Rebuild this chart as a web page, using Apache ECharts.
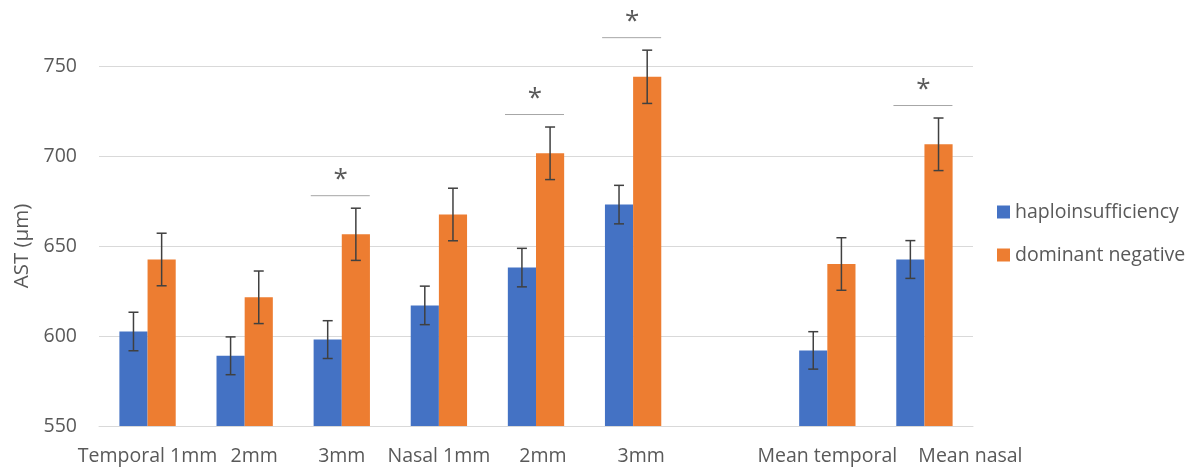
<!DOCTYPE html>
<html>
<head>
<meta charset="utf-8">
<script src="https://cdn.jsdelivr.net/npm/echarts@6/dist/echarts.min.js"></script>
<style>html,body{margin:0;padding:0;background:#fff;}#c{width:1195px;height:470px;}</style>
</head>
<body>
<div id="c"></div>
<script>
// ---- data ----
const categories = ['Temporal 1mm', '2mm', '3mm', 'Nasal 1mm', '2mm', '3mm', '', 'Mean temporal', 'Mean nasal'];
const haploValues = [602.5, 589, 598, 617, 638, 673, null, 592, 642.5];
const haploErrors = [10.7, 10.5, 10.5, 10.7, 10.7, 10.7, null, 10.4, 10.5];
const domValues = [642.5, 621.5, 656.5, 667.5, 701.5, 744, null, 640, 706.5];
const domErrors = [14.6, 14.6, 14.5, 14.6, 14.6, 14.8, null, 14.6, 14.6];
const significantIdx = [2, 4, 5, 8];
const yTicks = [550, 600, 650, 700, 750];
const seriesNames = ['haploinsufficiency', 'dominant negative'];

// ---- style ----
const FONT = 'Open Sans';
const FS = 19.5;
const TXT = '#595959';
const GRID = '#d9d9d9';
const BLUE = '#4472C4';
const ORANGE = '#ED7D31';
const CAT_GAP = 0.42;
const labelShift = [0, 19, 0, 0, 14, 16, 0, 0, 92]; // left padding to shift label text

const chart = echarts.init(document.getElementById('c'), null, {renderer: 'canvas'});

function errData(vals, errs) {
  return vals.map((v, i) => v == null ? null : [i, v, errs[i]]).filter(d => d);
}

function errRender(side) {
  return function (params, api) {
    const i = api.value(0), v = api.value(1), e = api.value(2);
    const catW = api.size([1, 0])[0];
    const barW = catW * (1 - CAT_GAP) / 2;
    const c = api.coord([i, v]);
    const x = c[0] + side * barW / 2;
    const top = api.coord([i, v + e])[1];
    const bot = api.coord([i, v - e])[1];
    const cap = 5;
    const st = {stroke: '#404040', lineWidth: 1.5};
    return {
      type: 'group',
      children: [
        {type: 'line', shape: {x1: x, y1: top, x2: x, y2: bot}, style: st},
        {type: 'line', shape: {x1: x - cap, y1: top, x2: x + cap, y2: top}, style: st},
        {type: 'line', shape: {x1: x - cap, y1: bot, x2: x + cap, y2: bot}, style: st}
      ]
    };
  };
}

const sigData = significantIdx.map(i => [i, domValues[i] + domErrors[i]]);

const rich = {};
labelShift.forEach((p, i) => {
  rich['s' + i] = {fontFamily: FONT, fontSize: FS, color: TXT, padding: [0, 0, 0, p]};
});

const option = {
  animation: false,
  backgroundColor: '#fff',
  grid: {left: 99, right: 222, top: 66, bottom: 44},
  legend: {
    data: seriesNames,
    orient: 'vertical',
    left: 992,
    top: 197,
    icon: 'rect',
    itemWidth: 13,
    itemHeight: 13,
    itemGap: 23,
    textStyle: {fontFamily: FONT, fontSize: FS, color: TXT, lineHeight: 20}
  },
  xAxis: {
    type: 'category',
    data: categories,
    axisLine: {show: true, lineStyle: {color: GRID, width: 1}},
    axisTick: {show: false},
    axisLabel: {
      interval: 0,
      margin: 20,
      formatter: (val, idx) => val ? '{s' + idx + '|' + val + '}' : '',
      rich: rich
    }
  },
  yAxis: {
    type: 'value',
    min: yTicks[0],
    max: yTicks[yTicks.length - 1],
    interval: 50,
    name: 'AST (μm)',
    nameLocation: 'middle',
    nameRotate: 90,
    nameGap: 63,
    nameTextStyle: {fontFamily: FONT, fontSize: 20.5, color: TXT},
    axisLine: {show: false},
    axisTick: {show: false},
    axisLabel: {fontFamily: FONT, fontSize: FS, color: TXT, margin: 22},
    splitLine: {lineStyle: {color: GRID, width: 1}}
  },
  series: [
    {
      name: seriesNames[0], type: 'bar', data: haploValues,
      itemStyle: {color: BLUE}, barGap: '0%', barCategoryGap: (CAT_GAP * 100) + '%'
    },
    {
      name: seriesNames[1], type: 'bar', data: domValues,
      itemStyle: {color: ORANGE}, barGap: '0%', barCategoryGap: (CAT_GAP * 100) + '%'
    },
    {
      type: 'custom', name: 'errH', data: errData(haploValues, haploErrors),
      renderItem: errRender(-1), z: 5, silent: true
    },
    {
      type: 'custom', name: 'errD', data: errData(domValues, domErrors),
      renderItem: errRender(1), z: 5, silent: true
    },
    {
      type: 'custom', name: 'sig', data: sigData, clip: false, z: 6, silent: true,
      renderItem: function (params, api) {
        const i = api.value(0), v = api.value(1);
        const c = api.coord([i, v]);
        const y = c[1] - 12.5;
        const x = c[0];
        return {
          type: 'group',
          children: [
            {type: 'line', shape: {x1: x - 31, y1: y, x2: x + 28, y2: y}, style: {stroke: '#a6a6a6', lineWidth: 1}},
            {type: 'text', x: x - 1, y: y - 3, style: {text: '*', fontFamily: FONT, fontSize: 26, fill: TXT, align: 'center', verticalAlign: 'bottom'}}
          ]
        };
      }
    }
  ]
};
chart.setOption(option);
</script>
</body>
</html>
